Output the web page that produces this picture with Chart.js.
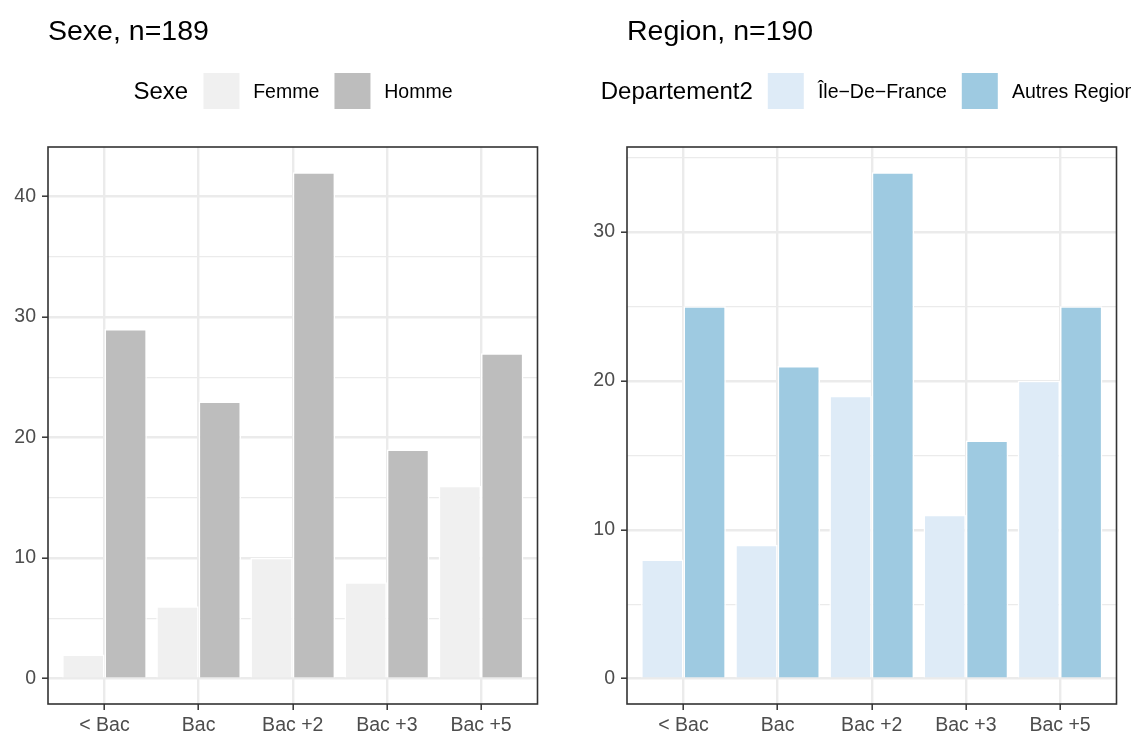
<!DOCTYPE html>
<html lang="fr">
<head>
<meta charset="utf-8">
<title>Sexe et Region par niveau de diplome</title>
<script src="https://cdn.jsdelivr.net/npm/chart.js@4.4.1/dist/chart.umd.min.js"></script>
<style>
  html, body { margin: 0; padding: 0; background: #fff; }
  body {
    width: 1131px; height: 733px; position: relative; overflow: hidden;
    font-family: "Liberation Sans", Arial, Helvetica, sans-serif; color: #000;
  }
  .panel { position: absolute; top: 0; height: 733px; }
  .panel canvas { position: absolute; left: 0; top: 0; }
  .title { position: absolute; top: 16px; font-size: 28.5px; line-height: 1; white-space: nowrap; }
  .legend {
    position: absolute; top: 73px; height: 36px;
    display: flex; align-items: center; white-space: nowrap;
    transform: translateX(-50%);
  }
  .legend .ltitle { font-size: 24px; margin-right: 15px; }
  .legend .key { width: 36px; height: 36px; margin-right: 14px; }
  .legend .lab { font-size: 19.5px; margin-right: 15px; }
  .legend .lab:last-child { margin-right: 0; }
</style>
</head>
<body>

<div class="panel" id="panelSexe" style="left:0; width:565px;">
  <canvas id="chartSexe" width="565" height="733"></canvas>
  <div class="title" style="left:48px;">Sexe, n=189</div>
  <div class="legend" id="legendSexe" style="left:293px;"></div>
</div>

<div class="panel" id="panelRegion" style="left:565px; width:566px;">
  <canvas id="chartRegion" width="566" height="733"></canvas>
  <div class="title" style="left:62px;">Region, n=190</div>
  <div class="legend" id="legendRegion" style="left:308px;"></div>
</div>

<script>
// Data
const niveaux = ['< Bac', 'Bac', 'Bac +2', 'Bac +3', 'Bac +5'];

const femme = [2, 6, 10, 8, 16];
const homme = [29, 23, 42, 19, 27];

const ileDeFrance = [8, 9, 19, 11, 20];
const autresRegions = [25, 21, 34, 16, 25];

const yTicksSexe = [0, 10, 20, 30, 40];
const yTicksRegion = [0, 10, 20, 30];

// Styles
const GRID = '#EBEBEB';
const INK = '#333333';
const TICK_TEXT = '#4D4D4D';
const FONT = '"Liberation Sans", Arial, Helvetica, sans-serif';

// full box around the plotting area (theme_bw look)
const panelBorder = {
    id: 'panelBorder',
    afterDraw(chart) {
        const { ctx, chartArea: a } = chart;
        ctx.save();
        ctx.strokeStyle = INK;
        ctx.lineWidth = 1.6;
        ctx.strokeRect(a.left, a.top, a.right - a.left, a.bottom - a.top);
        ctx.restore();
    }
};

function points(values) {
    return values.map((v, i) => ({ x: i + 1, y: v }));
}

function renderLegend(el, title, chart) {
    el.innerHTML = `<span class="ltitle">${title}</span>` + chart.data.datasets.map(ds => `
        <span class="key" style="background:${ds.backgroundColor}"></span><span class="lab">${ds.label}</span>
    `).join('');
}

function makePanel(cfg) {
    const top = Math.max(...cfg.series.flatMap(s => s.data));
    const pad = top * 0.05;
    const step = cfg.yTicks[1] - cfg.yTicks[0];
    const yAll = [];
    for (let v = cfg.yTicks[0]; v <= top + pad; v += step / 2) yAll.push(v);
    const isMajor = v => cfg.yTicks.includes(v);

    const chart = new Chart(document.getElementById(cfg.canvas), {
        type: 'bar',
        data: {
            datasets: cfg.series.map(s => ({
                label: s.label,
                data: points(s.data),
                backgroundColor: s.color,
                borderColor: '#ffffff',
                borderWidth: 1.5,
                categoryPercentage: 0.9,
                barPercentage: 1
            }))
        },
        options: {
            responsive: false,
            animation: false,
            events: [],
            layout: { padding: { top: 147, right: cfg.padRight, left: 0, bottom: 0 } },
            plugins: {
                legend: { display: false },
                tooltip: { enabled: false },
                title: { display: false }
            },
            scales: {
                x: {
                    type: 'linear',
                    min: 0.4,
                    max: niveaux.length + 0.6,
                    offset: false,
                    afterBuildTicks: s => { s.ticks = niveaux.map((_, i) => ({ value: i + 1 })); },
                    afterFit: s => { s.height = 29; },
                    border: { display: false },
                    grid: {
                        offset: false,
                        color: GRID,
                        lineWidth: 2.4,
                        tickColor: INK,
                        tickWidth: 1.5,
                        tickLength: 6
                    },
                    ticks: {
                        color: TICK_TEXT,
                        font: { family: FONT, size: 19.5 },
                        padding: 4,
                        maxRotation: 0,
                        autoSkip: false,
                        callback: v => niveaux[v - 1]
                    }
                },
                y: {
                    type: 'linear',
                    min: -pad,
                    max: top + pad,
                    afterBuildTicks: s => { s.ticks = yAll.map(v => ({ value: v })); },
                    afterFit: s => { s.width = cfg.yAxisWidth; },
                    border: { display: false },
                    grid: {
                        color: GRID,
                        lineWidth: c => (c.tick && isMajor(c.tick.value)) ? 2.4 : 1.2,
                        tickColor: c => (c.tick && isMajor(c.tick.value)) ? INK : 'rgba(0,0,0,0)',
                        tickWidth: 1.5,
                        tickLength: 6
                    },
                    ticks: {
                        color: TICK_TEXT,
                        font: { family: FONT, size: 19.5 },
                        padding: 6,
                        autoSkip: false,
                        callback: v => isMajor(v) ? String(v) : ''
                    }
                }
            }
        },
        plugins: [panelBorder]
    });

    renderLegend(document.getElementById(cfg.legend), cfg.legendTitle, chart);
    return chart;
}

makePanel({
    canvas: 'chartSexe',
    legend: 'legendSexe',
    legendTitle: 'Sexe',
    yTicks: yTicksSexe,
    yAxisWidth: 48,
    padRight: 27.5,
    series: [
        { label: 'Femme', data: femme, color: '#F0F0F0' },
        { label: 'Homme', data: homme, color: '#BDBDBD' }
    ]
});

makePanel({
    canvas: 'chartRegion',
    legend: 'legendRegion',
    legendTitle: 'Departement2',
    yTicks: yTicksRegion,
    yAxisWidth: 62,
    padRight: 14.5,
    series: [
        { label: 'Île−De−France', data: ileDeFrance, color: '#DEEBF7' },
        { label: 'Autres Regions', data: autresRegions, color: '#9ECAE1' }
    ]
});
</script>
</body>
</html>
